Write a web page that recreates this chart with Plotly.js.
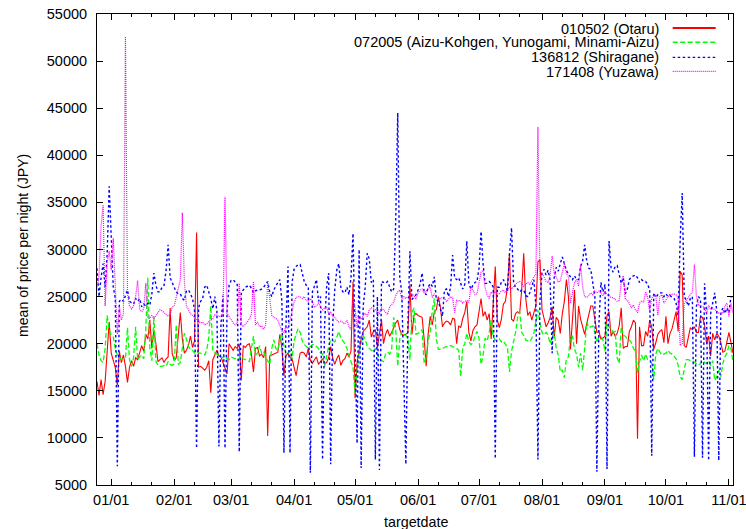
<!DOCTYPE html>
<html>
<head>
<meta charset="utf-8">
<script src="https://cdn.plot.ly/plotly-3.0.1.min.js"></script>
<style>html,body{margin:0;padding:0;background:#fff;}#chart{width:746px;height:529px;}</style>
</head>
<body>
<div id="chart"></div>
<script>
// Daily series, first day 2010-12-25, last day 2011-11-03
const startDate = [2010, 11, 25];

const seriesNames = [
  '010502 (Otaru)',
  '072005 (Aizu-Kohgen, Yunogami, Minami-Aizu)',
  '136812 (Shiragane)',
  '171408 (Yuzawa)'
];

const otaru = [
16000,14500,16200,14600,16000,19500,22300,
19000,18300,17500,15600,19200,18000,18800,17600,15900,17500,
18200,17600,18500,18300,19000,19800,19200,21000,20500,22500,
19500,21500,20000,18100,18300,18500,18000,18400,18600,23800,
19000,18200,18500,21300,23300,20500,19000,19300,19800,20800,
19600,20300,31800,17500,17600,17400,17200,17500,18200,14800,
18300,18800,19300,18700,18600,18000,17500,16800,20000,19600,
19300,19700,19500,20000,16100,19800,19600,19900,20000,18900,
17000,19500,19600,18700,18900,18500,19700,10200,18700,18800,
18900,19000,19100,21000,19500,16600,18700,19000,18600,18400,
17500,16600,17900,19000,19100,19000,18600,19500,18200,17900,
18300,18600,17800,18100,18400,17900,18000,18500,19700,18500,
17800,18400,18800,17700,18200,18400,19000,18600,19200,26600,
14200,18000,19500,20500,21300,21500,21800,22500,20700,21300,
21500,19600,21000,22500,20000,21000,21500,20800,21200,21700,
22200,22500,21500,21000,20900,21000,21200,26300,21000,23000,
23200,23000,22900,22800,20500,17600,21100,22900,22000,23400,
23600,25000,23900,21800,22200,22400,22300,22000,22700,22600,
20000,21900,21700,22700,23300,24500,21200,20300,21400,21800,
22000,23500,24800,22900,23400,22500,23200,20500,24100,28200,
22500,21700,22600,24200,24500,26000,29600,22600,22400,23200,
23400,23200,25700,29600,24800,23000,23400,22500,23300,24000,
28700,28900,23600,22800,21800,22200,22800,23900,20600,22800,
22500,21100,23200,24500,26800,25000,19400,22600,25700,20000,
24000,22600,21700,21000,22100,23000,24000,24000,22800,21200,
21300,20500,20600,20800,23000,23400,20800,21300,20800,21100,
21900,23800,19500,19700,19700,21300,21800,22500,22200,9900,
21800,19800,19800,21300,20800,22500,21800,19400,20100,21000,
21300,21500,20100,22900,20000,21100,21600,22500,23400,21300,
27700,27300,19800,19600,20800,21700,21500,21800,21200,21200,
22900,22800,22000,20000,20800,18700,21100,20400,21100,20800,
20100,19100,19200,20100,21200,20100,19000
];

const aizu = [
20000,18800,18200,18000,19500,23000,21500,
20900,20700,19500,18800,18500,18300,18400,18500,21700,18300,
17600,18500,21800,18300,18600,18800,18400,21500,27000,19500,
18200,22900,18100,17700,17600,17600,17700,17600,18100,17800,
17700,17900,22000,17800,18000,19900,21100,20500,19700,19400,
19300,19000,19200,19000,19000,18900,18800,19300,20700,24000,
19300,19000,18900,18800,18600,18500,18700,18400,18300,18600,
18500,18400,18500,18300,18700,18400,18300,18200,18100,19500,
20800,18800,19000,19800,19000,19200,18500,18200,17800,19500,
20400,19500,19300,20400,21000,19800,18900,19000,19300,18400,
20300,21000,21600,21200,20300,19900,19700,19500,19700,19900,
19900,19700,19500,19000,18900,17600,18700,19700,20400,20300,
20200,20700,21300,20600,20300,20000,19500,18700,18100,17500,
14800,17200,19000,20000,20900,20400,19800,19500,19300,19100,
19500,18900,18400,18200,18100,18900,19100,18900,19400,22800,
21500,17600,20500,21300,21000,20900,20500,18300,23300,23800,
21000,21100,21200,21500,17900,18500,20400,21200,23500,24800,
20500,19400,19400,19500,19600,19700,19800,19800,19700,19600,
19500,19300,16500,19600,20000,21100,20200,19900,20100,20800,
21300,20600,17800,18700,20600,20300,21200,22500,20700,20400,
20300,20500,20200,20300,20000,19600,17000,19200,20200,21200,
22800,23400,21200,20900,20400,20300,20200,20600,21100,22400,
23600,22200,21200,20900,21200,20900,20000,20800,21200,19500,
18800,17000,17200,16400,18400,18600,20800,20800,19400,18900,
17500,19000,17200,19500,22300,21700,21800,21900,21200,20100,
20700,20800,20400,19200,22200,21800,21600,21200,21300,18500,
17900,21800,20900,20800,20500,20400,20100,19500,19200,16900,
18100,18800,18200,18900,18300,18200,17900,16200,18900,19500,
19100,18800,18900,19000,19300,19000,18900,18700,18400,17700,
16500,16200,17200,18300,18300,18200,18200,18000,17800,17700,
17900,18200,18000,17900,18200,17700,18200,16100,16500,17200,
16500,17900,18600,19000,19800,19500,18000
];

const shiragane = [
28000,25000,27000,28500,26000,29500,36700,
30500,26000,24800,7000,24500,24700,24500,25000,25700,24500,
24300,24200,24800,24500,24800,23900,24200,24000,24300,24100,
25300,27500,26200,25500,25500,26000,26200,27800,30500,27000,
26500,25900,25500,25300,25300,24800,24600,25600,25700,25300,
24800,23600,8900,23800,24500,24800,26000,26200,25600,24800,
23700,25000,23500,9100,22000,25100,8900,23500,26200,26700,
26800,26600,26300,8500,25500,25700,26000,26100,26200,25900,
25400,25600,25700,25700,25800,26000,26300,26600,25500,25000,
25700,26200,26500,26800,24500,8400,22000,28200,8400,26500,
27900,28200,28400,28400,27600,26600,26200,26000,6300,25500,
26100,26800,24500,25000,7700,22000,26000,27500,7200,22000,
25700,27800,28500,26000,25500,25400,26000,25200,27000,31700,
20000,9400,30000,6800,24000,26000,29600,29000,26500,26800,
7700,25000,6600,26600,26500,26400,26600,26000,25500,25800,
33000,44500,27000,25500,15000,7200,22000,29800,24700,25000,
25200,25700,26300,27500,25500,25200,26000,26400,26100,27100,
24700,24500,23800,22900,25700,25800,25000,26000,29400,27000,
26800,27000,26400,25800,26300,30900,26400,25800,26200,26500,
26600,28000,31900,28500,26400,26400,26600,26400,26000,7800,
26000,26000,26500,26800,26300,25500,29500,32300,26600,25900,
25800,25500,25700,25700,25100,25000,25400,26200,26800,24000,
7700,24500,27500,27900,27300,27800,26700,19000,27000,28100,
27700,28500,29200,28500,27800,27400,27100,26800,27200,26800,
26800,28200,28800,30500,28800,28000,27900,26600,25000,6400,
22000,26500,25500,26300,6700,30900,28000,27600,28200,28300,
27300,26400,27000,25300,25800,26800,27100,27200,27300,27000,
26500,26800,26600,26600,26300,25700,8100,25400,24900,25200,
25400,25400,25000,25300,25000,25100,24900,24800,24300,23000,
31000,36000,25000,24600,24000,24800,25000,8000,24000,25000,
24700,7900,26400,23200,7600,23200,24300,25400,23500,7600,
23200,23800,23200,23800,23300,25000,25000
];

const yuzawa = [
26000,27200,32500,34700,24000,28600,29800,
27800,31200,25000,21000,24000,22500,23200,52600,25300,24000,
23700,24000,25000,26700,23600,23400,23700,26400,22800,22700,
23000,22700,23000,23300,23600,23500,23300,23200,22900,23100,
23900,24000,25000,26000,26800,33900,26600,24000,23500,23200,
23000,22800,22500,22300,22200,22300,22000,22100,22300,22600,
22600,23100,23000,22900,22900,23100,35600,23200,22900,22500,
22200,22000,22200,26400,22000,21800,22100,22400,22600,23200,
26600,22000,22300,21800,21900,21500,22000,26600,24500,23000,
22800,22700,22500,21800,21300,21200,21800,21600,22500,23700,
24400,24900,25000,25000,24800,25000,24600,24500,24800,24500,
23900,24000,24300,23900,23600,23800,23900,23200,23400,22900,
22800,22500,22300,22400,22200,22100,22500,21800,21500,25000,
23800,21700,22900,22600,23000,23200,22900,23600,23800,23700,
23600,23400,23200,23800,23600,23300,23100,23900,24200,24400,
25100,25500,25700,24700,25000,24800,25000,25100,25300,25100,
24700,25400,25700,25800,25400,25500,25900,26000,24900,25300,
24900,24900,24800,24900,24800,24500,24700,25000,24900,23300,
24600,24500,24600,24300,24500,24600,24400,26000,25700,25200,
25300,26500,27600,27800,25900,25200,24800,25500,25300,25500,
25300,25300,25600,25700,25400,25800,26000,25800,26100,26300,
26500,26600,26400,26100,26300,26500,26300,26800,27100,27400,
43000,26800,27500,27100,26600,26500,27200,29300,27500,27100,
26500,26700,27800,28500,27500,27100,24300,25400,26500,26800,
26100,28400,26000,25000,24900,25100,25400,25200,25600,25400,
25600,25400,25100,25600,25200,25100,24900,24900,24700,24500,
24600,26500,27200,24700,24600,24300,23800,24100,23600,23300,
24300,24500,24400,25500,24900,23500,24800,25200,25100,23000,
25000,25200,24300,24600,24900,25300,25200,25300,25200,24700,
19800,20000,24300,24600,25000,25200,25500,28400,25000,24100,
24000,24000,23800,23200,24100,23600,23800,23600,23500,23200,
23300,23200,24000,24300,22900,24300,23200
];

const monthTicks = ['2011-01-01','2011-02-01','2011-03-01','2011-04-01','2011-05-01','2011-06-01',
  '2011-07-01','2011-08-01','2011-09-01','2011-10-01','2011-11-01'];
const tickLabels = ['01/01','02/01','03/01','04/01','05/01','06/01','07/01','08/01','09/01','10/01','11/01'];
const minorTicks = ['2011-01-11','2011-01-21','2011-02-11','2011-02-21','2011-03-11','2011-03-21',
  '2011-04-11','2011-04-21','2011-05-11','2011-05-21','2011-06-11','2011-06-21','2011-07-11','2011-07-21',
  '2011-08-11','2011-08-21','2011-09-11','2011-09-21','2011-10-11','2011-10-21'];
const yTicks = [5000,10000,15000,20000,25000,30000,35000,40000,45000,50000,55000];

const colors = ['#ff0000', '#00ff00', '#0000ff', '#ff00ff'];
const dashes = ['solid', '5px,2.5px', '2.5px,2.5px', '1px,1px'];
const widths = [1.1, 1.3, 1.4, 1.2];
const legendWidths = [1.8, 1.4, 1.3, 1.2];

const dates = otaru.map((_, i) => {
  const d = new Date(Date.UTC(startDate[0], startDate[1], startDate[2] + i));
  return d.toISOString().slice(0, 10);
});

const allSeries = [otaru, aizu, shiragane, yuzawa];
const traces = allSeries.map((vals, k) => ({
  type: 'scatter', mode: 'lines', x: dates, y: vals, name: seriesNames[k],
  line: {color: colors[k], width: widths[k], dash: dashes[k]},
  hoverinfo: 'skip'
}));

const FONT = '"Liberation Sans", Arial, sans-serif';
const W = 746, H = 529, L = 97, R = 13, T = 14, B = 44;
const pw = W - L - R, ph = H - T - B;
const px2x = px => (px - L) / pw;
const py2y = py => (H - B - py) / ph;

const legendLinePx = [28.0, 42.3, 57.3, 71.3];
const legendTextPx = [28.6, 42.3, 57.2, 71.8];
const annotations = [];
const shapes = [];
seriesNames.forEach((nm, k) => {
  annotations.push({
    xref: 'paper', yref: 'paper', x: px2x(661), y: py2y(legendTextPx[k]),
    xanchor: 'right', yanchor: 'middle', text: nm, showarrow: false,
    font: {family: FONT, size: 14.5, color: '#000'}
  });
  shapes.push({
    type: 'line', xref: 'paper', yref: 'paper',
    x0: px2x(672.7), x1: px2x(715.7), y0: py2y(legendLinePx[k]), y1: py2y(legendLinePx[k]),
    line: {color: colors[k], width: legendWidths[k], dash: dashes[k]}
  });
});
annotations.push({
  xref: 'paper', yref: 'paper', x: px2x(416), y: py2y(522), xanchor: 'center', yanchor: 'middle',
  text: 'targetdate', showarrow: false, font: {family: FONT, size: 14.3, color: '#000'}
});
annotations.push({
  xref: 'paper', yref: 'paper', x: px2x(23), y: py2y(246), xanchor: 'center', yanchor: 'middle',
  text: 'mean of price per night (JPY)', textangle: -90, showarrow: false,
  font: {family: FONT, size: 14.1, color: '#000'}
});

const layout = {
  width: W, height: H,
  margin: {l: L, r: R, t: T, b: B, pad: 0},
  paper_bgcolor: '#fff', plot_bgcolor: '#fff',
  showlegend: false,
  font: {family: FONT, size: 14.5, color: '#000'},
  xaxis: {
    type: 'date', range: ['2010-12-25', '2011-11-03'],
    tickmode: 'array', tickvals: monthTicks, ticktext: tickLabels,
    ticks: 'inside', ticklen: 6, tickwidth: 1, tickcolor: '#000',
    showline: true, linecolor: '#000', linewidth: 1, mirror: 'allticks',
    showgrid: false, zeroline: false,
    ticklabelstandoff: 2,
    ticklabeloverflow: 'allow',
    tickfont: {family: FONT, size: 14.5, color: '#000'},
    minor: {tickmode: 'array', tickvals: minorTicks, ticks: 'inside', ticklen: 3, tickwidth: 1, tickcolor: '#000', showgrid: false}
  },
  yaxis: {
    range: [5000, 55000],
    tickmode: 'array', tickvals: yTicks, tickformat: 'd',
    ticks: 'inside', ticklen: 6, tickwidth: 1, tickcolor: '#000',
    showline: true, linecolor: '#000', linewidth: 1, mirror: 'allticks',
    showgrid: false, zeroline: false,
    ticklabelstandoff: 6,
    tickfont: {family: FONT, size: 14.5, color: '#000'}
  },
  annotations: annotations,
  shapes: shapes
};

Plotly.newPlot('chart', traces, layout, {staticPlot: true, displayModeBar: false});
</script>
</body>
</html>
